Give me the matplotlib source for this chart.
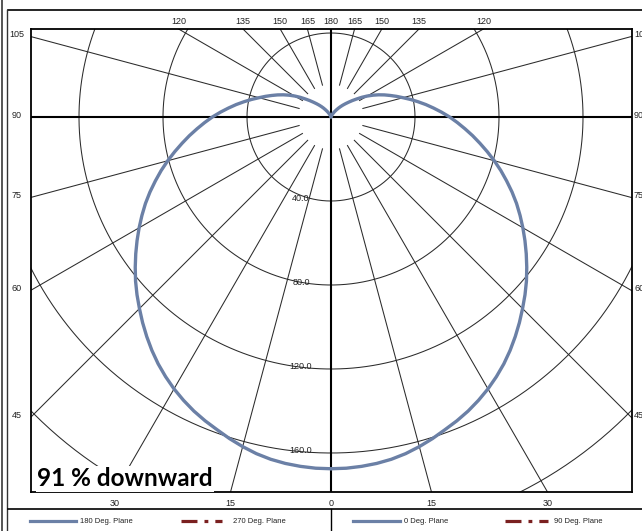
import numpy as np
import matplotlib
matplotlib.use("Agg")
import matplotlib.pyplot as plt

# ---------------- data ----------------
angles_deg = [0, 2.5, 5, 7.5, 10, 12.5, 15, 17.5, 20, 22.5, 25, 27.5, 30, 32.5, 35, 37.5,
              40, 42.5, 45, 47.5, 50, 52.5, 55, 57.5, 60, 62.5, 65, 67.5, 70, 72.5, 75,
              77.5, 80, 82.5, 85, 87.5, 90, 92.5, 95, 97.5, 100, 102.5, 105, 107.5, 110,
              112.5, 115, 117.5, 120, 122.5, 125, 127.5, 130, 132.5, 135, 137.5, 140,
              142.5, 145, 147.5, 150, 152.5, 155, 157.5, 160, 162.5, 165, 167.5, 170,
              172.5, 175, 177.5, 180]
cd_0_180 = [167.5, 167.4, 167, 166.4, 165.5, 164.2, 162.5, 160.6, 158.5, 156.6, 154.5,
            152.1, 149.5, 146.6, 143.5, 140.1, 136.5, 132.8, 129, 125.3, 121.5, 117.5,
            113.5, 109.5, 105.5, 101.5, 97.5, 93.3, 89, 84.8, 80.5, 76.2, 72, 68, 64,
            60.2, 56.5, 52.7, 49, 45.5, 42, 38.7, 35.5, 32.7, 30, 27.5, 25, 22.5, 20,
            17.5, 15, 12.9, 11, 9.4, 8, 6.7, 5.5, 4.4, 3.5, 2.7, 2, 1.4, 1, 0.7, 0.5,
            0.3, 0.2, 0.1, 0, 0, 0, 0, 0]
cd_90_270 = list(cd_0_180)

ring_values = [40, 80, 120, 160, 200]
ring_labels = ["40.0", "80.0", "120.0", "160.0"]
spoke_angles = [15, 30, 45, 60, 75, 105, 120, 135, 150, 165]
edge_label_angles = [0, 15, 30, 45, 60, 75, 90, 105, 120, 135, 150, 165, 180]
legend_names = ["180 Deg. Plane", "270 Deg. Plane", "0 Deg. Plane", "90 Deg. Plane"]
note_text = "91 % downward"

# ---------------- layout ----------------
W, H = 642, 531
cx, cy = 331, 117          # pole position (px)
s = 2.1                    # px per cd
L, R, T, B = 31, 632, 29, 492

BLUE = "#6B80A6"
RED = "#7A2020"
GRID = "#2b2b2b"

fig = plt.figure(figsize=(W / 100, H / 100), dpi=100)
bg = fig.add_axes([0, 0, 1, 1])
bg.set_xlim(0, W)
bg.set_ylim(H, 0)
bg.axis("off")

ax = fig.add_axes([L / W, 1 - B / H, (R - L) / W, (B - T) / H])
ax.set_xlim((L - cx) / s, (R - cx) / s)
ax.set_ylim(-(B - cy) / s, (cy - T) / s)
ax.set_facecolor("none")
ax.set_xticks([])
ax.set_yticks([])
for sp in ax.spines.values():
    sp.set_linewidth(1.3)
    sp.set_color("black")

# rings
phi = np.linspace(0, 2 * np.pi, 721)
for rv in ring_values:
    ax.plot(rv * np.cos(phi), rv * np.sin(phi), color=GRID, lw=0.75, zorder=1)
for rv, lab in zip(ring_values, ring_labels):
    ax.text(-30 / s, -rv + 1.4, lab, ha="center", va="center", fontsize=6.5,
            family="Liberation Sans", color="#222222", zorder=3)

# spokes (start at inner radius)
r_in, r_out = 33 / s, 400
for a in spoke_angles:
    t = np.radians(a)
    for sgn in (-1, 1):
        ax.plot([sgn * r_in * np.sin(t), sgn * r_out * np.sin(t)],
                [-r_in * np.cos(t), -r_out * np.cos(t)], color=GRID, lw=0.75, zorder=1)
# main axes lines
ax.axhline(0, color="black", lw=1.5, zorder=2)
ax.axvline(0, color="black", lw=1.5, zorder=2)

# edge labels
xmin, xmax = ax.get_xlim()
ymin, ymax = ax.get_ylim()
placed = set()
for a in edge_label_angles:
    t = np.radians(a)
    for sgn in (-1, 1):
        dx, dy = sgn * np.sin(t), -np.cos(t)
        cands = []
        if dx < -1e-9:
            cands.append(((xmin) / dx, "left"))
        if dx > 1e-9:
            cands.append(((xmax) / dx, "right"))
        if dy > 1e-9:
            cands.append(((ymax) / dy, "top"))
        if dy < -1e-9:
            cands.append(((ymin) / dy, "bottom"))
        tt, edge = min(cands)
        px, py = tt * dx, tt * dy
        key = (round(px, 3), round(py, 3))
        if key in placed:
            continue
        placed.add(key)
        kw = dict(fontsize=6.5, family="Liberation Sans", color="#222222",
                  clip_on=False, va="center")
        if edge == "left":
            ax.text(xmin - 14 / s, py + 2 / s, str(a), ha="center", **kw)
        elif edge == "right":
            ax.text(xmax + 2 / s, py + 2 / s, str(a), ha="left", **kw)
        elif edge == "top":
            ax.text(px, ymax + 7.5 / s, str(a), ha="center", **kw)
        else:
            ax.text(px, ymin - 11 / s, str(a), ha="center", **kw)

# intensity curves
th = np.radians(angles_deg)
r1 = np.array(cd_0_180)
r2 = np.array(cd_90_270)
ax.plot(-r2 * np.sin(th), -r2 * np.cos(th), color=RED, lw=1.2, ls="-.", zorder=4)
ax.plot(r2 * np.sin(th), -r2 * np.cos(th), color=RED, lw=1.2, ls="-.", zorder=4)
ax.plot(-r1 * np.sin(th), -r1 * np.cos(th), color=BLUE, lw=2.4, zorder=5,
        solid_capstyle="round", solid_joinstyle="round")
ax.plot(r1 * np.sin(th), -r1 * np.cos(th), color=BLUE, lw=2.4, zorder=5,
        solid_capstyle="round", solid_joinstyle="round")

# note
ax.text(37, 479, note_text, transform=bg.transData, ha="left", va="center",
        fontsize=17.5, fontweight="bold", family=["Lato", "DejaVu Sans"],
        color="black", zorder=10, clip_on=False,
        bbox=dict(boxstyle="square,pad=0.05", fc="white", ec="none"))

# outer frame
bg.plot([8, W], [10, 10], color="black", lw=1.2)
bg.plot([7, 7], [10, H], color="#333333", lw=1.0)
bg.plot([2, 2], [0, H], color="#555555", lw=1.4)
bg.plot([8, W], [509, 509], color="black", lw=1.2)
bg.plot([331, 331], [509, H], color="black", lw=1.0)

# legend
ly = 521
leg_items = [
    (30, 76, 80, BLUE, "-", 2.3),
    (181, 222, 233, RED, (0, (5, 2.2, 1.2, 2.2)), 2.3),
    (353, 400, 404, BLUE, "-", 2.3),
    (505, 548, 554, RED, (0, (5, 2.2, 1.2, 2.2)), 2.3),
]
for (x0, x1, xt, c, ls, lw), name in zip(leg_items, legend_names):
    bg.plot([x0, x1], [ly, ly], color=c, ls=ls, lw=lw)
    bg.text(xt, ly + 0.5, name, ha="left", va="center", fontsize=5.5,
            family="Liberation Sans", color="#222222")

fig.savefig("out.png", dpi=100)
